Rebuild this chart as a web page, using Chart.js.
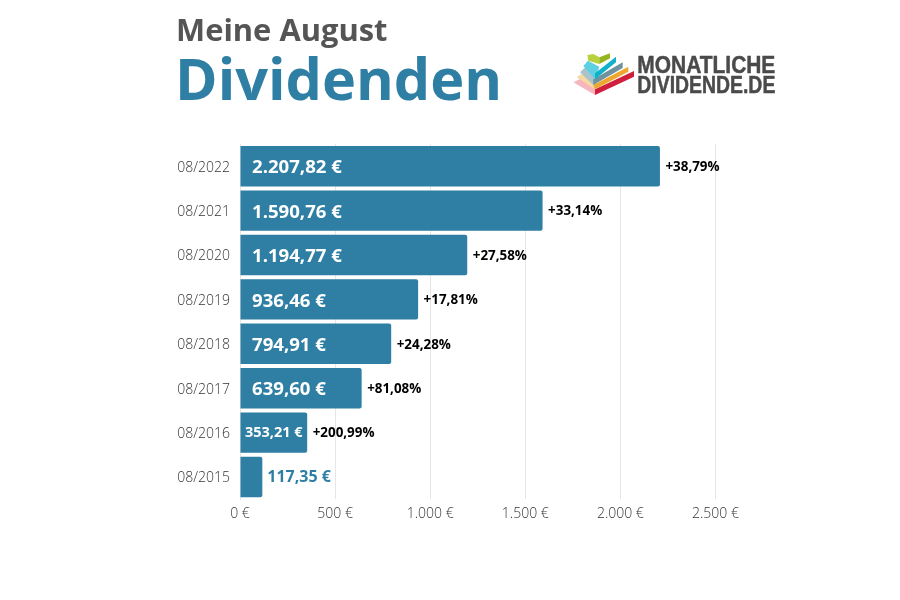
<!DOCTYPE html>
<html lang="de">
<head>
<meta charset="utf-8">
<title>Meine August Dividenden</title>
<script src="https://cdn.jsdelivr.net/npm/chart.js@4"></script>
<style>
  html, body { margin: 0; padding: 0; background: #fff; }
  .page { position: relative; width: 900px; height: 600px; overflow: hidden; font-family: "Open Sans", sans-serif; }
  #chart { position: absolute; left: 0; top: 0; }
  .sub { position: absolute; left: 176px; top: 8px; font-size: 30.9px; font-weight: 700; color: #555; line-height: 42px; white-space: nowrap; }
  .main { position: absolute; left: 175px; top: 38px; font-size: 57.6px; font-weight: 700; color: #2e7fa3; line-height: 80px; white-space: nowrap; }
  .logo { position: absolute; left: 560px; top: 40px; }
</style>
</head>
<body>
<div class="page">
  <canvas id="chart" width="900" height="600"></canvas>
  <div class="sub">Meine August</div>
  <div class="main">Dividenden</div>
  <svg class="logo" width="230" height="70" viewBox="0 0 690 210">
    <polygon fill="#f7b5bd" points="40,127 62,116 110,135 105,165"/>
    <polygon fill="#cf1f3d" points="105,148 222,93 222,110 105,165"/>
    <polygon fill="#f5d9a0" points="50,112 70,98 112,118 105,148"/>
    <polygon fill="#eda72f" points="100,135 205,80 205,95 105,148"/>
    <polygon fill="#a9c2cc" points="60,97 76,82 115,100 100,135"/>
    <polygon fill="#6f929f" points="100,118 188,67 188,84 100,135"/>
    <polygon fill="#5fd0e2" points="70,78 84,62 118,80 105,118"/>
    <polygon fill="#12b1cb" points="105,100 168,50 168,67 105,118"/>
    <polygon fill="#b9d23c" points="82,45 100,42 118,52 118,72 85,62"/>
    <polygon fill="#94b51f" points="118,52 150,40 150,55 118,72"/>
    <text x="232" y="98" font-family="Liberation Sans Narrow, Liberation Sans" font-weight="700" font-size="74" fill="#4a4a4a" stroke="#4a4a4a" stroke-width="1.5" textLength="414" lengthAdjust="spacingAndGlyphs">MONATLICHE</text>
    <text x="232" y="158" font-family="Liberation Sans Narrow, Liberation Sans" font-weight="700" font-size="74" fill="#4a4a4a" stroke="#4a4a4a" stroke-width="1.5" textLength="414" lengthAdjust="spacingAndGlyphs">DIVIDENDE.DE</text>
  </svg>
</div>
<script>
/* global Chart */

const categories = ['08/2022', '08/2021', '08/2020', '08/2019', '08/2018', '08/2017', '08/2016', '08/2015']
const dividends = [2207.82, 1590.76, 1194.77, 936.46, 794.91, 639.60, 353.21, 117.35]
const growth = ['+38,79%', '+33,14%', '+27,58%', '+17,81%', '+24,28%', '+81,08%', '+200,99%', '']

const blue = '#2e7fa3'
const font = '"Open Sans", sans-serif'

function formatEuro (value, digits) {
  return value.toLocaleString('de-DE', {
    minimumFractionDigits: digits,
    maximumFractionDigits: digits
  }) + ' €'
}

const barLabels = {
  id: 'barLabels',
  afterDatasetsDraw (chart) {
    const ctx = chart.ctx
    const bars = chart.getDatasetMeta(0).data
    const x0 = chart.scales.x.getPixelForValue(0)

    ctx.save()
    ctx.textBaseline = 'middle'
    ctx.textAlign = 'left'
    bars.forEach((bar, i) => {
      const text = formatEuro(dividends[i], 2)
      if (dividends[i] < 200) {
        ctx.font = `700 16px ${font}`
        ctx.fillStyle = blue
        ctx.fillText(text, bar.x + 5, bar.y)
      } else if (dividends[i] < 500) {
        ctx.font = `700 14.5px ${font}`
        ctx.fillStyle = '#fff'
        ctx.fillText(text, x0 + 5, bar.y)
      } else {
        ctx.font = `700 18.6px ${font}`
        ctx.fillStyle = '#fff'
        ctx.fillText(text, x0 + 12, bar.y + 2)
      }
      ctx.font = `700 13.4px ${font}`
      ctx.fillStyle = '#000'
      ctx.fillText(growth[i], bar.x + 5.5, bar.y + 1)
    })
    ctx.restore()
  }
}

new Chart(document.getElementById('chart'), {
  type: 'bar',
  data: {
    labels: categories,
    datasets: [{
      data: dividends,
      backgroundColor: blue,
      borderRadius: { topRight: 2, bottomRight: 2 },
      borderSkipped: false,
      categoryPercentage: 1,
      barPercentage: 0.91
    }]
  },
  options: {
    indexAxis: 'y',
    responsive: false,
    animation: false,
    layout: { padding: { top: 144, right: 184.5, bottom: 72, left: 0 } },
    plugins: { legend: { display: false }, tooltip: { enabled: false } },
    scales: {
      x: {
        min: 0,
        max: 2500,
        border: { display: false },
        grid: { color: '#e6e6e6', drawTicks: false },
        ticks: {
          stepSize: 500,
          padding: 6,
          color: '#333',
          font: { family: font, size: 14, weight: '300' },
          maxRotation: 0,
          callback: (value) => formatEuro(value, 0)
        }
      },
      y: {
        afterFit (scale) { scale.width = 240 },
        border: { color: '#e6e6e6' },
        grid: { display: false, drawTicks: false },
        ticks: {
          padding: 10,
          labelOffset: 1.5,
          color: '#333',
          font: { family: font, size: 14, weight: '300' }
        }
      }
    }
  },
  plugins: [barLabels]
})
</script>
</body>
</html>
